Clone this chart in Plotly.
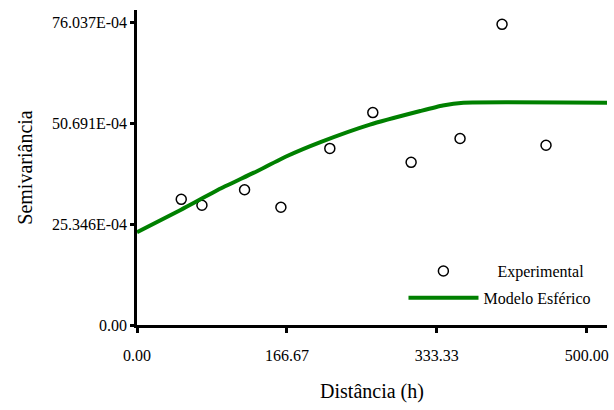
import plotly.graph_objects as go

# Experimental semivariogram (distance h, semivariance)
exp_h = [49.2, 72.2, 119.6, 160.0, 214.4, 262.2, 304.8, 359.2, 405.9, 454.8]
exp_g = [31.6e-4, 30.1e-4, 34.0e-4, 29.6e-4, 44.4e-4, 53.4e-4, 40.9e-4, 46.9e-4, 75.6e-4, 45.2e-4]

# Spherical model curve
mod_h = [0.0, 49.0, 93.0, 130.0, 167.0, 204.0, 259.0, 315.0, 340.0, 363.0, 522.6]
mod_g = [23.3e-4, 29.0e-4, 34.3e-4, 38.3e-4, 42.5e-4, 46.0e-4, 50.4e-4, 53.8e-4, 55.2e-4, 55.9e-4, 55.9e-4]

x_ticks = [0.0, 166.67, 333.33, 500.0]
x_ticktext = ["0.00", "166.67", "333.33", "500.00"]
y_ticks = [0.0, 25.346e-4, 50.691e-4, 76.037e-4]
y_ticktext = ["0.00", "25.346E-04", "50.691E-04", "76.037E-04"]

FONT = "Liberation Serif, Times New Roman, serif"

fig = go.Figure()
fig.add_trace(go.Scatter(
    x=exp_h, y=exp_g, mode="markers", name="Experimental", legend="legend2",
    marker=dict(symbol="circle-open", size=10, color="black", line=dict(width=1.5, color="black")),
))
fig.add_trace(go.Scatter(
    x=mod_h, y=mod_g, mode="lines", name="Modelo Esférico", legend="legend",
    line=dict(color="#008000", width=4, shape="spline", smoothing=0.5),
))

fig.update_layout(
    width=614, height=410,
    margin=dict(l=137, r=7, t=10, b=85, autoexpand=False),
    paper_bgcolor="white", plot_bgcolor="white",
    font=dict(family=FONT, size=16, color="black"),
    showlegend=True,
    legend=dict(x=0.567, xanchor="left", y=0.086, yanchor="middle",
                bgcolor="rgba(0,0,0,0)", font=dict(size=16, family=FONT),
                itemwidth=70),
    legend2=dict(x=0.537, xanchor="left", y=0.171, yanchor="middle",
                 bgcolor="rgba(0,0,0,0)", font=dict(size=16, family=FONT),
                 itemwidth=98),
    xaxis=dict(
        range=[0, 522.6], tickvals=x_ticks, ticktext=x_ticktext, automargin=False,
        showgrid=False, zeroline=False, showline=True, linecolor="black", linewidth=2.5,
        ticks="outside", ticklen=5, tickwidth=2.5, tickcolor="black",
        ticklabelstandoff=9,
        tickfont=dict(size=16, family=FONT),
        title=dict(text="Distância (h)", font=dict(size=20, family=FONT), standoff=22),
    ),
    yaxis=dict(
        range=[0, 79.2e-4], tickvals=y_ticks, ticktext=y_ticktext, automargin=False,
        showgrid=False, zeroline=False, showline=True, linecolor="black", linewidth=2.5,
        ticks="outside", ticklen=4, tickwidth=2.5, tickcolor="black",
        tickfont=dict(size=16, family=FONT),
        title=dict(text="Semivariância", font=dict(size=20, family=FONT), standoff=14),
    ),
)

fig.write_html(
    "out.html",
    config={"displayModeBar": False},
    post_script="document.body.style.margin='0px';document.body.style.overflow='hidden';",
)
